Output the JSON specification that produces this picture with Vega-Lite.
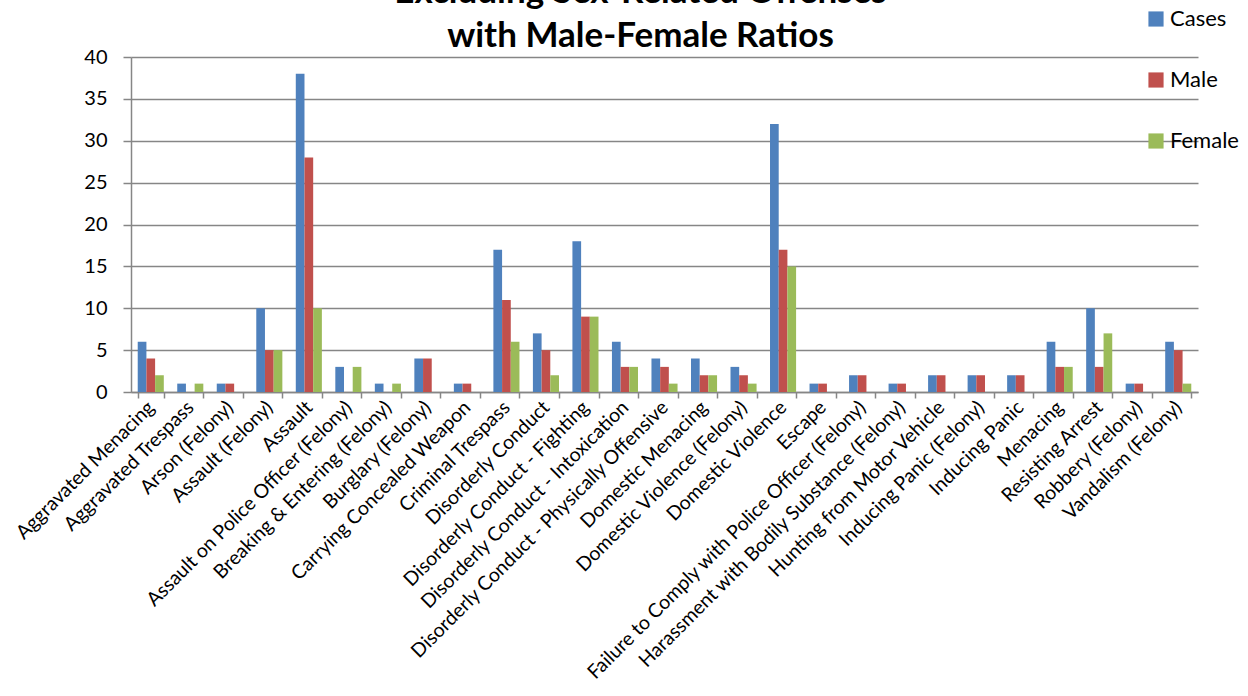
{
  "$schema": "https://vega.github.io/schema/vega-lite/v6.json",
  "autosize": {"type": "none"},
  "width": 1067,
  "height": 335,
  "padding": {"left": 131, "top": 57, "right": 50, "bottom": 304},
  "background": "white",
  "config": {
    "font": "Lato",
    "view": {"stroke": null}
  },
  "title": {
    "text": ["Excluding Sex-Related Offenses", "with Male-Female Ratios"],
    "fontSize": 35,
    "fontWeight": "bold",
    "font": "Lato",
    "color": "#000000",
    "anchor": "middle",
    "lineHeight": 44,
    "offset": 6,
    "dx": -24,
    "dy": 52
  },
  "data": {
    "values": [
      {"offense": "Aggravated Menacing", "series": "Cases", "count": 6},
      {"offense": "Aggravated Menacing", "series": "Male", "count": 4},
      {"offense": "Aggravated Menacing", "series": "Female", "count": 2},
      {"offense": "Aggravated Trespass", "series": "Cases", "count": 1},
      {"offense": "Aggravated Trespass", "series": "Male", "count": 0},
      {"offense": "Aggravated Trespass", "series": "Female", "count": 1},
      {"offense": "Arson (Felony)", "series": "Cases", "count": 1},
      {"offense": "Arson (Felony)", "series": "Male", "count": 1},
      {"offense": "Arson (Felony)", "series": "Female", "count": 0},
      {"offense": "Assault (Felony)", "series": "Cases", "count": 10},
      {"offense": "Assault (Felony)", "series": "Male", "count": 5},
      {"offense": "Assault (Felony)", "series": "Female", "count": 5},
      {"offense": "Assault", "series": "Cases", "count": 38},
      {"offense": "Assault", "series": "Male", "count": 28},
      {"offense": "Assault", "series": "Female", "count": 10},
      {"offense": "Assault on Police Officer (Felony)", "series": "Cases", "count": 3},
      {"offense": "Assault on Police Officer (Felony)", "series": "Male", "count": 0},
      {"offense": "Assault on Police Officer (Felony)", "series": "Female", "count": 3},
      {"offense": "Breaking & Entering (Felony)", "series": "Cases", "count": 1},
      {"offense": "Breaking & Entering (Felony)", "series": "Male", "count": 0},
      {"offense": "Breaking & Entering (Felony)", "series": "Female", "count": 1},
      {"offense": "Burglary (Felony)", "series": "Cases", "count": 4},
      {"offense": "Burglary (Felony)", "series": "Male", "count": 4},
      {"offense": "Burglary (Felony)", "series": "Female", "count": 0},
      {"offense": "Carrying Concealed Weapon", "series": "Cases", "count": 1},
      {"offense": "Carrying Concealed Weapon", "series": "Male", "count": 1},
      {"offense": "Carrying Concealed Weapon", "series": "Female", "count": 0},
      {"offense": "Criminal Trespass", "series": "Cases", "count": 17},
      {"offense": "Criminal Trespass", "series": "Male", "count": 11},
      {"offense": "Criminal Trespass", "series": "Female", "count": 6},
      {"offense": "Disorderly Conduct", "series": "Cases", "count": 7},
      {"offense": "Disorderly Conduct", "series": "Male", "count": 5},
      {"offense": "Disorderly Conduct", "series": "Female", "count": 2},
      {"offense": "Disorderly Conduct - Fighting", "series": "Cases", "count": 18},
      {"offense": "Disorderly Conduct - Fighting", "series": "Male", "count": 9},
      {"offense": "Disorderly Conduct - Fighting", "series": "Female", "count": 9},
      {"offense": "Disorderly Conduct - Intoxication", "series": "Cases", "count": 6},
      {"offense": "Disorderly Conduct - Intoxication", "series": "Male", "count": 3},
      {"offense": "Disorderly Conduct - Intoxication", "series": "Female", "count": 3},
      {"offense": "Disorderly Conduct - Physically Offensive", "series": "Cases", "count": 4},
      {"offense": "Disorderly Conduct - Physically Offensive", "series": "Male", "count": 3},
      {"offense": "Disorderly Conduct - Physically Offensive", "series": "Female", "count": 1},
      {"offense": "Domestic Menacing", "series": "Cases", "count": 4},
      {"offense": "Domestic Menacing", "series": "Male", "count": 2},
      {"offense": "Domestic Menacing", "series": "Female", "count": 2},
      {"offense": "Domestic Violence (Felony)", "series": "Cases", "count": 3},
      {"offense": "Domestic Violence (Felony)", "series": "Male", "count": 2},
      {"offense": "Domestic Violence (Felony)", "series": "Female", "count": 1},
      {"offense": "Domestic Violence", "series": "Cases", "count": 32},
      {"offense": "Domestic Violence", "series": "Male", "count": 17},
      {"offense": "Domestic Violence", "series": "Female", "count": 15},
      {"offense": "Escape", "series": "Cases", "count": 1},
      {"offense": "Escape", "series": "Male", "count": 1},
      {"offense": "Escape", "series": "Female", "count": 0},
      {"offense": "Failure to Comply with Police Officer (Felony)", "series": "Cases", "count": 2},
      {"offense": "Failure to Comply with Police Officer (Felony)", "series": "Male", "count": 2},
      {"offense": "Failure to Comply with Police Officer (Felony)", "series": "Female", "count": 0},
      {"offense": "Harassment with Bodily Substance (Felony)", "series": "Cases", "count": 1},
      {"offense": "Harassment with Bodily Substance (Felony)", "series": "Male", "count": 1},
      {"offense": "Harassment with Bodily Substance (Felony)", "series": "Female", "count": 0},
      {"offense": "Hunting from Motor Vehicle", "series": "Cases", "count": 2},
      {"offense": "Hunting from Motor Vehicle", "series": "Male", "count": 2},
      {"offense": "Hunting from Motor Vehicle", "series": "Female", "count": 0},
      {"offense": "Inducing Panic (Felony)", "series": "Cases", "count": 2},
      {"offense": "Inducing Panic (Felony)", "series": "Male", "count": 2},
      {"offense": "Inducing Panic (Felony)", "series": "Female", "count": 0},
      {"offense": "Inducing Panic", "series": "Cases", "count": 2},
      {"offense": "Inducing Panic", "series": "Male", "count": 2},
      {"offense": "Inducing Panic", "series": "Female", "count": 0},
      {"offense": "Menacing", "series": "Cases", "count": 6},
      {"offense": "Menacing", "series": "Male", "count": 3},
      {"offense": "Menacing", "series": "Female", "count": 3},
      {"offense": "Resisting Arrest", "series": "Cases", "count": 10},
      {"offense": "Resisting Arrest", "series": "Male", "count": 3},
      {"offense": "Resisting Arrest", "series": "Female", "count": 7},
      {"offense": "Robbery (Felony)", "series": "Cases", "count": 1},
      {"offense": "Robbery (Felony)", "series": "Male", "count": 1},
      {"offense": "Robbery (Felony)", "series": "Female", "count": 0},
      {"offense": "Vandalism (Felony)", "series": "Cases", "count": 6},
      {"offense": "Vandalism (Felony)", "series": "Male", "count": 5},
      {"offense": "Vandalism (Felony)", "series": "Female", "count": 1}
    ]
  },
  "mark": {"type": "bar"},
  "encoding": {
    "x": {
      "field": "offense",
      "type": "nominal",
      "sort": null,
      "scale": {"paddingInner": 0.34, "paddingOuter": 0.17},
      "axis": {
        "title": null,
        "labelAngle": -45,
        "labelAlign": "right",
        "labelBaseline": "middle",
        "labelFontSize": 19.5,
        "labelColor": "#000000",
        "labelPadding": 6,
        "labelOverlap": false,
        "labelLimit": 0,
        "tickBand": "extent",
        "tickSize": 6,
        "tickColor": "#868686",
        "tickWidth": 1.5,
        "domainColor": "#868686",
        "domainWidth": 1.5,
        "grid": false
      }
    },
    "xOffset": {
      "field": "series",
      "type": "nominal",
      "sort": ["Cases", "Male", "Female"],
      "scale": {"paddingInner": 0, "paddingOuter": 0}
    },
    "y": {
      "field": "count",
      "type": "quantitative",
      "scale": {"domain": [0, 40], "nice": false},
      "axis": {
        "title": null,
        "values": [0, 5, 10, 15, 20, 25, 30, 35, 40],
        "labelFontSize": 20,
        "labelColor": "#000000",
        "labelPadding": 16,
        "tickSize": 8,
        "tickColor": "#868686",
        "tickWidth": 1.5,
        "domainColor": "#868686",
        "domainWidth": 1.5,
        "grid": true,
        "gridColor": "#868686",
        "gridWidth": 1.5
      }
    },
    "color": {
      "field": "series",
      "type": "nominal",
      "sort": ["Cases", "Male", "Female"],
      "scale": {"domain": ["Cases", "Male", "Female"], "range": ["#4F81BD", "#C0504D", "#9BBB59"]},
      "legend": {
        "title": null,
        "orient": "none",
        "legendX": 1014,
        "legendY": -49,
        "symbolType": "square",
        "symbolSize": 230,
        "symbolStrokeWidth": 0,
        "labelFontSize": 22,
        "labelColor": "#000000",
        "labelOffset": 3,
        "rowPadding": 39,
        "padding": 0
      }
    }
  }
}
